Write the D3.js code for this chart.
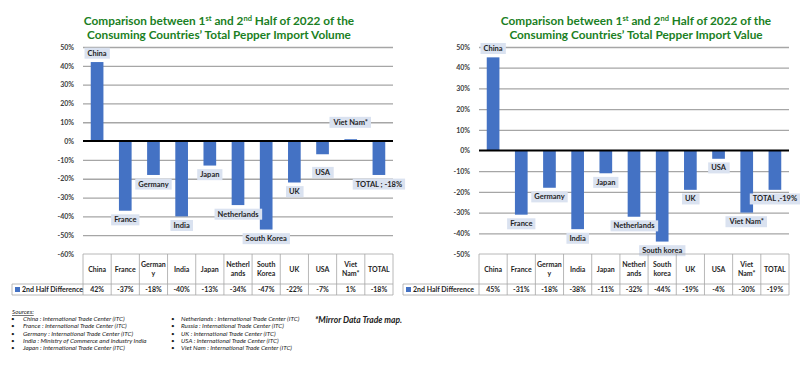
<!DOCTYPE html>
<html>
<head>
<meta charset="utf-8">
<script src="https://cdn.jsdelivr.net/npm/d3@7"></script>
<style>
  body { margin: 0; background: #fff; }
  svg { display: block; font-family: Lato, "Open Sans", sans-serif; }
  .tick text { font-weight: bold; fill: #404040; }
</style>
</head>
<body>
<div id="chart"></div>
<script>
(function(d3) {
    'use strict';

    // table header text, one entry per category (lines split by \n)
    var headers = ['China', 'France', 'German\ny', 'India', 'Japan', 'Netherl\nands', 'South\nKorea', 'UK', 'USA', 'Viet\nNam*', 'TOTAL'];
    var headersValue = ['China', 'France', 'German\ny', 'India', 'Japan', 'Netherl\nands', 'South\nkorea', 'UK', 'USA', 'Viet\nNam*', 'TOTAL'];

    // data label text next to each bar
    var labelsVolume = ['China', 'France', 'Germany', 'India', 'Japan', 'Netherlands', 'South Korea', 'UK', 'USA', 'Viet Nam*', 'TOTAL ; -18%'];
    var labelsValue = ['China', 'France', 'Germany', 'India', 'Japan', 'Netherlands', 'South korea', 'UK', 'USA', 'Viet Nam*', 'TOTAL ,-19%'];

    // 2nd half difference, percent
    var volumeDiff = [42, -37, -18, -40, -13, -34, -47, -22, -7, 1, -18];
    var valueDiff = [45, -31, -18, -38, -11, -32, -44, -19, -4, -30, -19];

    var volumeTicks = [50, 40, 30, 20, 10, 0, -10, -20, -30, -40, -50, -60];
    var valueTicks = [50, 40, 30, 20, 10, 0, -10, -20, -30, -40, -50];

    var sourcesLeft = [
        'China : International Trade Center (ITC)',
        'France : International Trade Center (ITC)',
        'Germany : International Trade Center (ITC)',
        'India : Ministry of Commerce and Industry India',
        'Japan : International Trade Center (ITC)'
    ];
    var sourcesRight = [
        'Netherlands : International Trade Center (ITC)',
        'Russia : International Trade Center (ITC)',
        'UK : International Trade Center (ITC)',
        'USA : International Trade Center (ITC)',
        'Viet Nam : International Trade Center (ITC)'
    ];

    var settings = {
        width: 800,
        height: 388,
        barColor: '#4472c4',
        labelFill: '#dae2f0',
        titleColor: '#1b7f24',
        gridColor: '#a6a6a6',
        tableColor: '#a6a6a6',
        textColor: '#1f1f1f'
    };

    var svg = d3.select('#chart').append('svg')
        .attr('width', settings.width)
        .attr('height', settings.height);

    svg.append('rect')
        .attr('width', settings.width)
        .attr('height', settings.height)
        .attr('fill', '#fff');

    drawChart({
        left: 83, right: 393, top: 47, bottom: 254,
        domain: [-60, 50],
        ticks: volumeTicks,
        values: volumeDiff,
        headers: headers,
        labels: labelsVolume,
        legendLeft: 12,
        titleX: 219,
        titleWord: 'Volume',
        nudge: { 'USA': 18, 'Viet Nam*': -17 }
    });

    drawChart({
        left: 479, right: 789, top: 47, bottom: 254,
        domain: [-50, 50],
        ticks: valueTicks,
        values: valueDiff,
        headers: headersValue,
        labels: labelsValue,
        legendLeft: 403,
        titleX: 636,
        titleWord: 'Value',
        nudge: {}
    });

    drawSources();

    function drawChart(c) {
        var g = svg.append('g');

        var x = d3.scaleBand()
            .domain(d3.range(c.values.length))
            .range([c.left, c.right]);

        var y = d3.scaleLinear()
            .domain(c.domain)
            .range([c.bottom, c.top]);

        // title
        var title = g.append('text')
            .attr('x', c.titleX)
            .attr('y', 25)
            .attr('text-anchor', 'middle')
            .attr('fill', settings.titleColor)
            .style('font-size', '11.8px')
            .style('font-weight', 'bold');
        title.append('tspan').text('Comparison between 1');
        title.append('tspan').text('st').attr('dy', -4).style('font-size', '7.5px');
        title.append('tspan').text(' and 2').attr('dy', 4);
        title.append('tspan').text('nd').attr('dy', -4).style('font-size', '7.5px');
        title.append('tspan').text(' Half of 2022 of the').attr('dy', 4);

        g.append('text')
            .attr('x', c.titleX)
            .attr('y', 38.5)
            .attr('text-anchor', 'middle')
            .attr('fill', settings.titleColor)
            .style('font-size', '11.8px')
            .style('font-weight', 'bold')
            .text('Consuming Countries\u2019 Total Pepper Import ' + c.titleWord);

        // gridlines (skip the bottom one, the table sits there)
        var grid = g.append('g')
            .attr('transform', 'translate(' + c.left + ',0)')
            .call(d3.axisLeft(y)
                .tickValues(c.ticks.filter(function(t) { return t !== c.domain[0] && t !== 0; }))
                .tickSize(-(c.right - c.left))
                .tickFormat(''));
        grid.select('.domain').remove();
        grid.selectAll('line')
            .attr('stroke', settings.gridColor)
            .attr('stroke-width', 1.3);

        // tick labels
        var axis = g.append('g')
            .attr('transform', 'translate(' + (c.left - 6) + ',0)')
            .call(d3.axisLeft(y)
                .tickValues(c.ticks)
                .tickSize(0)
                .tickFormat(function(d) { return d + '%'; }));
        axis.select('.domain').remove();
        axis.selectAll('text')
            .style('font-size', '7px')
            .style('font-family', 'Lato, sans-serif');

        // bars
        var bw = x.bandwidth() * 0.45;
        g.selectAll('.bar')
            .data(c.values)
            .enter()
            .append('rect')
            .attr('class', 'bar')
            .attr('x', function(d, i) { return x(i) + (x.bandwidth() - bw) / 2; })
            .attr('width', bw)
            .attr('y', function(d) { return y(Math.max(0, d)); })
            .attr('height', function(d) { return Math.abs(y(d) - y(0)); })
            .attr('fill', settings.barColor);

        // zero line
        g.append('line')
            .attr('x1', c.left)
            .attr('x2', c.right)
            .attr('y1', y(0))
            .attr('y2', y(0))
            .attr('stroke', '#000')
            .attr('stroke-width', 2);

        // data labels
        var lab = g.selectAll('.lab')
            .data(c.values)
            .enter()
            .append('g')
            .attr('class', 'lab')
            .attr('transform', function(d, i) {
                var name = c.labels[i];
                var off = c.nudge[name] !== undefined ? c.nudge[name] : (d >= 0 ? -9 : 9);
                return 'translate(' + (x(i) + x.bandwidth() / 2) + ',' + (y(d) + off) + ')';
            });

        lab.append('text')
            .attr('text-anchor', 'middle')
            .attr('dy', '0.35em')
            .attr('fill', settings.textColor)
            .style('font-size', '7.5px')
            .style('font-weight', 'bold')
            .text(function(d, i) { return c.labels[i]; })
            .each(function() {
                var b = this.getBBox();
                d3.select(this.parentNode).insert('rect', 'text')
                    .attr('x', b.x - 3)
                    .attr('y', b.y - 1)
                    .attr('width', b.width + 6)
                    .attr('height', b.height + 2)
                    .attr('fill', settings.labelFill);
            });

        // data table
        var tTop = c.bottom;
        var tMid = c.bottom + 30;
        var tBot = c.bottom + 41;
        var table = g.append('g')
            .attr('stroke', settings.tableColor)
            .attr('stroke-width', 0.8)
            .attr('fill', 'none');

        table.append('line')
            .attr('x1', c.left).attr('x2', c.right)
            .attr('y1', tTop).attr('y2', tTop);
        table.append('line')
            .attr('x1', c.legendLeft).attr('x2', c.right)
            .attr('y1', tMid).attr('y2', tMid);
        table.append('line')
            .attr('x1', c.legendLeft).attr('x2', c.right)
            .attr('y1', tBot).attr('y2', tBot);
        table.append('line')
            .attr('x1', c.legendLeft).attr('x2', c.legendLeft)
            .attr('y1', tMid).attr('y2', tBot);

        table.selectAll('.vline')
            .data(d3.range(c.values.length + 1))
            .enter()
            .append('line')
            .attr('x1', function(i) { return i < c.values.length ? x(i) : c.right; })
            .attr('x2', function(i) { return i < c.values.length ? x(i) : c.right; })
            .attr('y1', tTop)
            .attr('y2', tBot);

        var head = g.selectAll('.head')
            .data(c.headers)
            .enter()
            .append('text')
            .attr('class', 'head')
            .attr('text-anchor', 'middle')
            .attr('fill', settings.textColor)
            .style('font-size', '7px')
            .style('font-weight', 'bold');

        head.each(function(h, i) {
            var lines = h.split('\n');
            var cy = (tTop + tMid) / 2 - (lines.length - 1) * 4.5;
            d3.select(this).selectAll('tspan')
                .data(lines)
                .enter()
                .append('tspan')
                .attr('x', x(i) + x.bandwidth() / 2)
                .attr('y', function(l, k) { return cy + k * 9 + 2.5; })
                .text(function(l) { return l; });
        });

        g.selectAll('.cell')
            .data(c.values)
            .enter()
            .append('text')
            .attr('class', 'cell')
            .attr('x', function(d, i) { return x(i) + x.bandwidth() / 2; })
            .attr('y', (tMid + tBot) / 2 + 2.5)
            .attr('text-anchor', 'middle')
            .attr('fill', settings.textColor)
            .style('font-size', '7px')
            .style('font-weight', 'bold')
            .text(function(d) { return d + '%'; });

        g.append('rect')
            .attr('x', c.legendLeft + 3)
            .attr('y', (tMid + tBot) / 2 - 2.5)
            .attr('width', 5)
            .attr('height', 5)
            .attr('fill', settings.barColor);

        g.append('text')
            .attr('x', c.legendLeft + 10)
            .attr('y', (tMid + tBot) / 2 + 2.5)
            .attr('fill', settings.textColor)
            .style('font-size', '7px')
            .style('font-weight', 'bold')
            .text('2nd Half Difference');
    }

    function drawSources() {
        var g = svg.append('g')
            .attr('fill', '#222')
            .style('font-size', '6.3px')
            .style('font-style', 'italic');

        g.append('text')
            .attr('x', 12)
            .attr('y', 314)
            .attr('text-decoration', 'underline')
            .text('Sources:');

        function column(list, bx, tx) {
            list.forEach(function(s, i) {
                var yy = 321 + i * 7.3;
                g.append('text').attr('x', bx).attr('y', yy).style('font-style', 'normal').text('\u2022');
                g.append('text').attr('x', tx).attr('y', yy).text(s);
            });
        }
        column(sourcesLeft, 11, 23);
        column(sourcesRight, 171, 181);

        svg.append('text')
            .attr('x', 315)
            .attr('y', 323)
            .attr('fill', '#222')
            .style('font-size', '8.5px')
            .style('font-weight', 'bold')
            .style('font-style', 'italic')
            .text('*Mirror Data Trade map.');
    }

})(window.d3);
</script>
</body>
</html>
